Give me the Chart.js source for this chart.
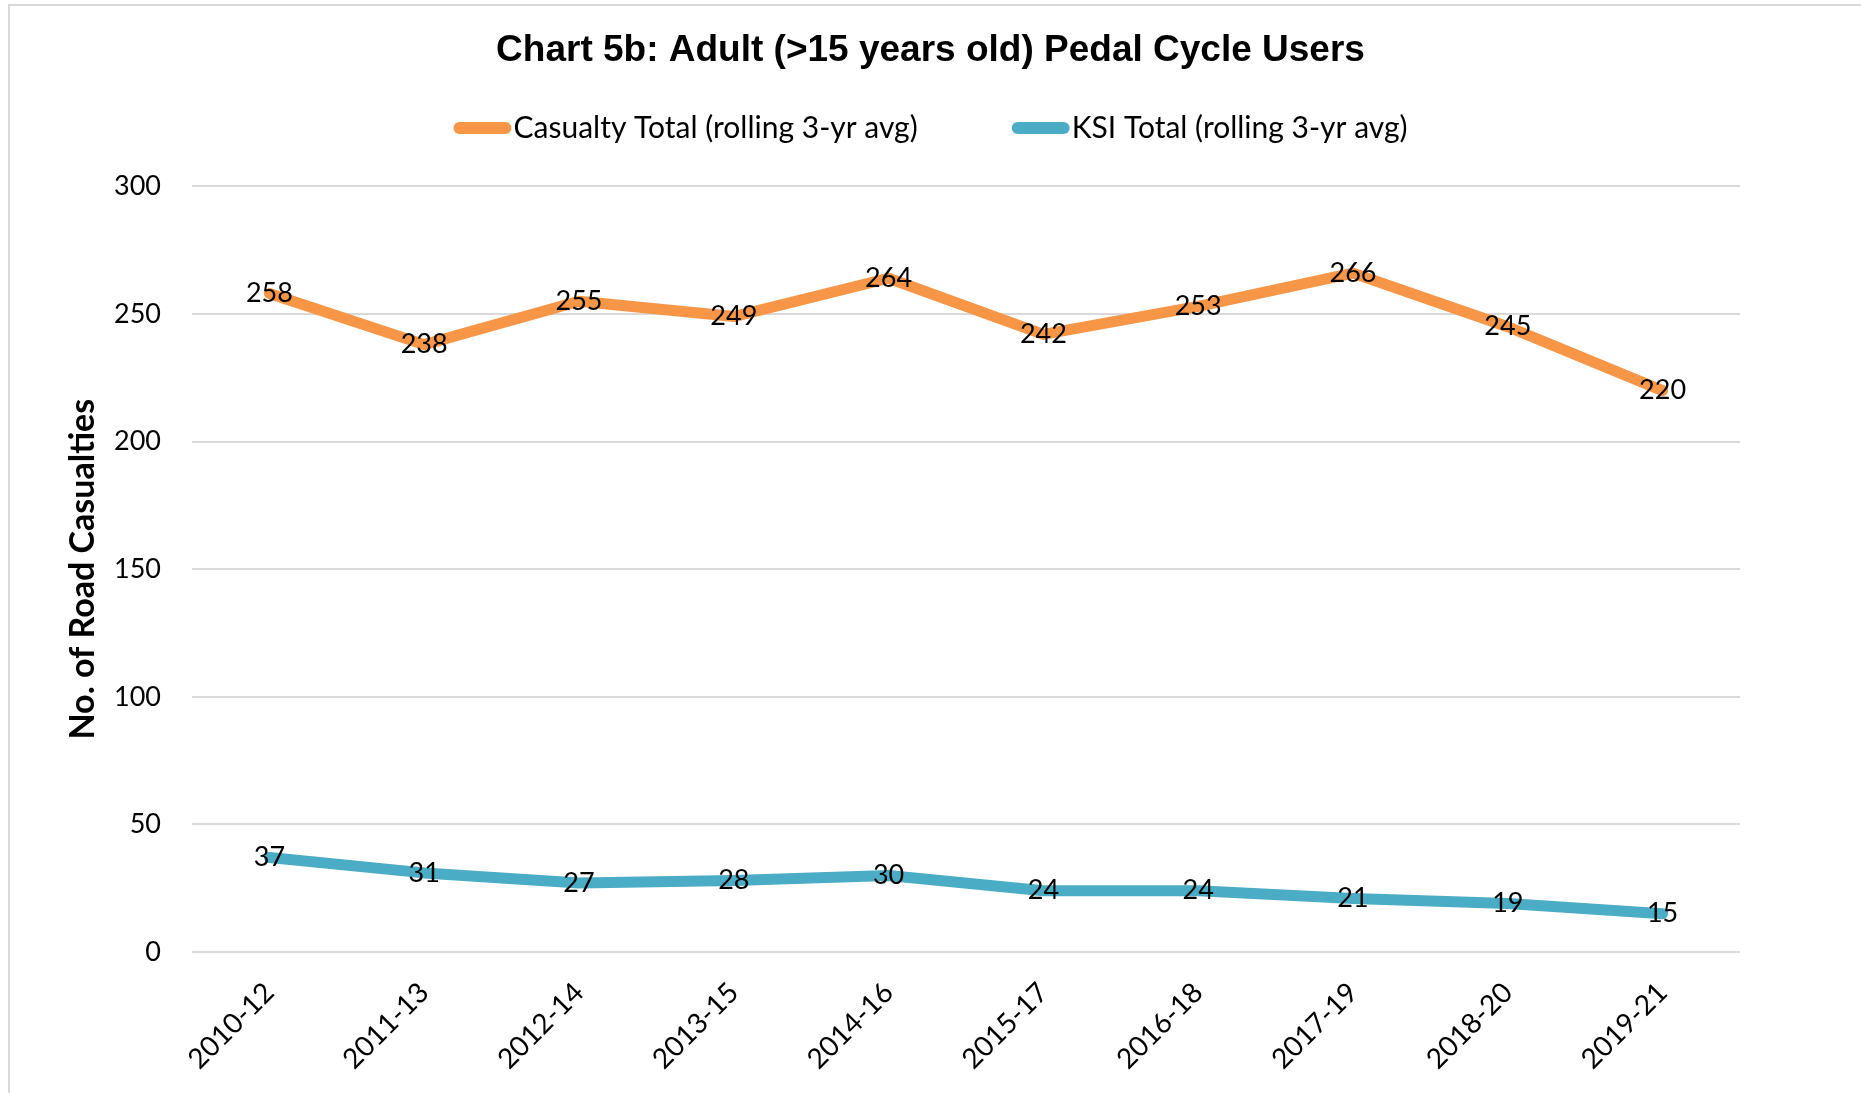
<!DOCTYPE html>
<html>
<head>
<meta charset="utf-8">
<script src="https://cdn.jsdelivr.net/npm/chart.js@4.4.1/dist/chart.umd.min.js"></script>
<style>
  html, body { margin: 0; padding: 0; background: #fff; overflow: hidden; }
  #frame { position: absolute; left: 8px; top: 4px; width: 1900px; height: 1200px; border-left: 2px solid #d9d9d9; border-top: 2px solid #d9d9d9; }
  #wrap { position: absolute; left: 0; top: 0; width: 1861px; height: 1093px; }
</style>
</head>
<body>
<div id="frame"></div>
<div id="wrap"><canvas id="chart" width="1861" height="1093"></canvas></div>
<script>
const periods = ['2010-12', '2011-13', '2012-14', '2013-15', '2014-16', '2015-17', '2016-18', '2017-19', '2018-20', '2019-21'];
const casualtyTotal = [258, 238, 255, 249, 264, 242, 253, 266, 245, 220];
const ksiTotal = [37, 31, 27, 28, 30, 24, 24, 21, 19, 15];
const yTicks = [0, 50, 100, 150, 200, 250, 300];

const bodyFont = 'Lato, "Open Sans", sans-serif';

// value labels centred on each point
const pointLabels = {
  id: 'pointLabels',
  afterDatasetsDraw(chart) {
    const ctx = chart.ctx;
    ctx.save();
    ctx.font = '27px ' + bodyFont;
    ctx.fillStyle = '#000';
    ctx.textAlign = 'center';
    ctx.textBaseline = 'middle';
    chart.data.datasets.forEach((ds, i) => {
      chart.getDatasetMeta(i).data.forEach((pt, j) => {
        ctx.fillText(String(ds.data[j]), pt.x, pt.y);
      });
    });
    ctx.restore();
  }
};

// legend with thick rounded line swatches, like the Excel original
const lineLegend = {
  id: 'lineLegend',
  afterDraw(chart) {
    const ctx = chart.ctx;
    const y = 128, sw = 46, cap = 6, gapText = 2, gapItem = 94;
    ctx.save();
    ctx.font = '30px ' + bodyFont;
    const items = chart.data.datasets.map(ds => ({ text: ds.label, color: ds.borderColor, w: ctx.measureText(ds.label).width }));
    const total = items.reduce((s, it) => s + cap * 2 + sw + gapText + it.w, 0) + gapItem * (items.length - 1);
    let x = chart.width / 2 - total / 2;
    items.forEach(it => {
      ctx.strokeStyle = it.color;
      ctx.lineWidth = 12;
      ctx.lineCap = 'round';
      ctx.beginPath();
      ctx.moveTo(x + cap, y);
      ctx.lineTo(x + cap + sw, y);
      ctx.stroke();
      x += cap * 2 + sw + gapText;
      ctx.fillStyle = '#000';
      ctx.textAlign = 'left';
      ctx.textBaseline = 'middle';
      ctx.fillText(it.text, x, y);
      x += it.w + gapItem;
    });
    ctx.restore();
  }
};

new Chart(document.getElementById('chart'), {
  type: 'line',
  data: {
    labels: periods,
    datasets: [
      { label: 'Casualty Total (rolling 3-yr avg)', data: casualtyTotal, borderColor: '#F79646', backgroundColor: '#F79646',
        borderWidth: 11, pointRadius: 0, borderJoinStyle: 'round', borderCapStyle: 'round', tension: 0 },
      { label: 'KSI Total (rolling 3-yr avg)', data: ksiTotal, borderColor: '#4BACC6', backgroundColor: '#4BACC6',
        borderWidth: 11, pointRadius: 0, borderJoinStyle: 'round', borderCapStyle: 'round', tension: 0 }
    ]
  },
  options: {
    responsive: false,
    animation: false,
    layout: { padding: 0 },
    plugins: {
      legend: { display: false },
      tooltip: { enabled: false },
      title: {
        display: true,
        text: 'Chart 5b: Adult (>15 years old) Pedal Cycle Users',
        color: '#000',
        font: { family: '"Liberation Sans", Arial, sans-serif', size: 37, weight: 'bold' },
        padding: { top: 29, bottom: 113 }
      }
    },
    scales: {
      x: {
        offset: true,
        grid: { display: false },
        border: { display: false },
        ticks: { color: '#000', font: { family: bodyFont, size: 28 }, minRotation: 45, maxRotation: 45, padding: 16, autoSkip: false },
        afterFit: s => { s.height = 141; }
      },
      y: {
        min: 0,
        max: 300,
        afterBuildTicks: s => { s.ticks = yTicks.map(v => ({ value: v })); },
        grid: { color: '#d9d9d9', lineWidth: 2, drawTicks: false },
        border: { display: false },
        ticks: { color: '#000', font: { family: bodyFont, size: 27 }, padding: 31 },
        title: { display: true, text: 'No. of Road Casualties', color: '#000', font: { family: bodyFont, size: 34, weight: 'bold' }, padding: { top: 63, bottom: 0 } },
        afterFit: s => { s.width = 192; }
      },
      // empty right-hand margin so the title stays centred on the whole frame
      yRight: {
        position: 'right',
        grid: { display: false },
        border: { display: false },
        ticks: { display: false },
        afterFit: s => { s.width = 121; }
      }
    }
  },
  plugins: [pointLabels, lineLegend]
});
</script>
</body>
</html>
